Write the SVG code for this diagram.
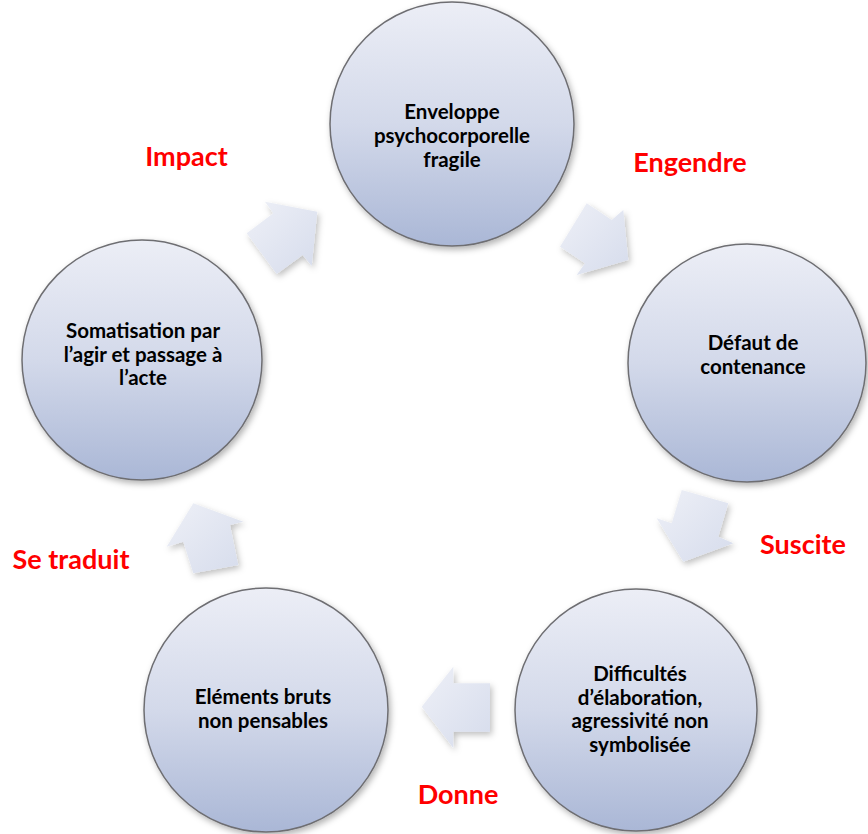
<svg xmlns="http://www.w3.org/2000/svg" width="868" height="834" viewBox="0 0 868 834">
<defs>
<linearGradient id="cg" x1="0" y1="0" x2="0" y2="1">
<stop offset="0" stop-color="#eceef6"/>
<stop offset="0.5" stop-color="#d3d9ea"/>
<stop offset="1" stop-color="#aab7d6"/>
</linearGradient>
<linearGradient id="ag" x1="0" y1="0" x2="1" y2="1">
<stop offset="0" stop-color="#eef0f7"/>
<stop offset="1" stop-color="#d6dcec"/>
</linearGradient>
<filter id="sh" x="-20%" y="-20%" width="140%" height="140%">
<feDropShadow dx="2" dy="3" stdDeviation="3" flood-color="#000" flood-opacity="0.3"/>
</filter>
<filter id="ash" x="-30%" y="-30%" width="160%" height="160%">
<feDropShadow dx="2" dy="3" stdDeviation="3" flood-color="#000" flood-opacity="0.25"/>
</filter>
</defs>
<style>
.node circle{fill:url(#cg);stroke:#6e6e72;stroke-width:1.5;filter:url(#sh)}
.node text{font-family:Lato,"Liberation Sans",sans-serif;font-weight:700;font-size:20.5px;fill:#000;text-anchor:middle}
.arr{fill:url(#ag);stroke:none;filter:url(#ash)}
.lbl{font-family:Lato,"Liberation Sans",sans-serif;font-weight:700;font-size:27px;fill:#ff0000;text-anchor:middle}
</style>
<rect width="868" height="834" fill="#fff"/>
<g id="connectors">
<polygon class="arr" points="246.7,233.3 276.7,274 302.7,255 311.7,266 317.3,211.7 265,201.7 273.3,213.3"/>
<polygon class="arr" points="586.7,203.3 560,246.7 585,263.3 576.7,275 628.3,260 623.3,210 611.7,220"/>
<polygon class="arr" points="681.7,490 728.3,503.3 718.3,536.7 733.3,543.3 683.3,561.7 656.7,518.3 671.7,523.3"/>
<polygon class="arr" points="490,683.3 490,731.7 453.3,731.7 453.3,748 421.7,706.7 453.3,666.7 453.3,683.3"/>
<polygon class="arr" points="193.3,503.3 243.3,521.7 230,525 238.3,565 193.3,573.3 183.3,541.7 166.7,546.7"/>
</g>
<g id="n1" class="node">
<circle cx="452" cy="124" r="122"/>
<text x="452" y="119">Enveloppe</text>
<text x="452" y="143">psychocorporelle</text>
<text x="452" y="167">fragile</text>
</g>
<g id="n2" class="node">
<circle cx="747" cy="363" r="119"/>
<text x="753" y="350">Défaut de</text>
<text x="753" y="374">contenance</text>
</g>
<g id="n3" class="node">
<circle cx="636" cy="710" r="121"/>
<text x="640" y="681">Difficultés</text>
<text x="640" y="704.5">d’élaboration,</text>
<text x="640" y="728">agressivité non</text>
<text x="640" y="751.5">symbolisée</text>
</g>
<g id="n4" class="node">
<circle cx="266" cy="710" r="122"/>
<text x="263" y="704">Eléments bruts</text>
<text x="263" y="728">non pensables</text>
</g>
<g id="n5" class="node">
<circle cx="142" cy="360" r="120"/>
<text x="143" y="338">Somatisation par</text>
<text x="143" y="361.5">l’agir et passage à</text>
<text x="143" y="385">l’acte</text>
</g>
<g id="labels">
<text class="lbl" x="186.5" y="166">Impact</text>
<text class="lbl" x="690" y="172">Engendre</text>
<text class="lbl" x="803" y="554">Suscite</text>
<text class="lbl" x="458" y="804">Donne</text>
<text class="lbl" x="71" y="569">Se traduit</text>
</g>
</svg>
